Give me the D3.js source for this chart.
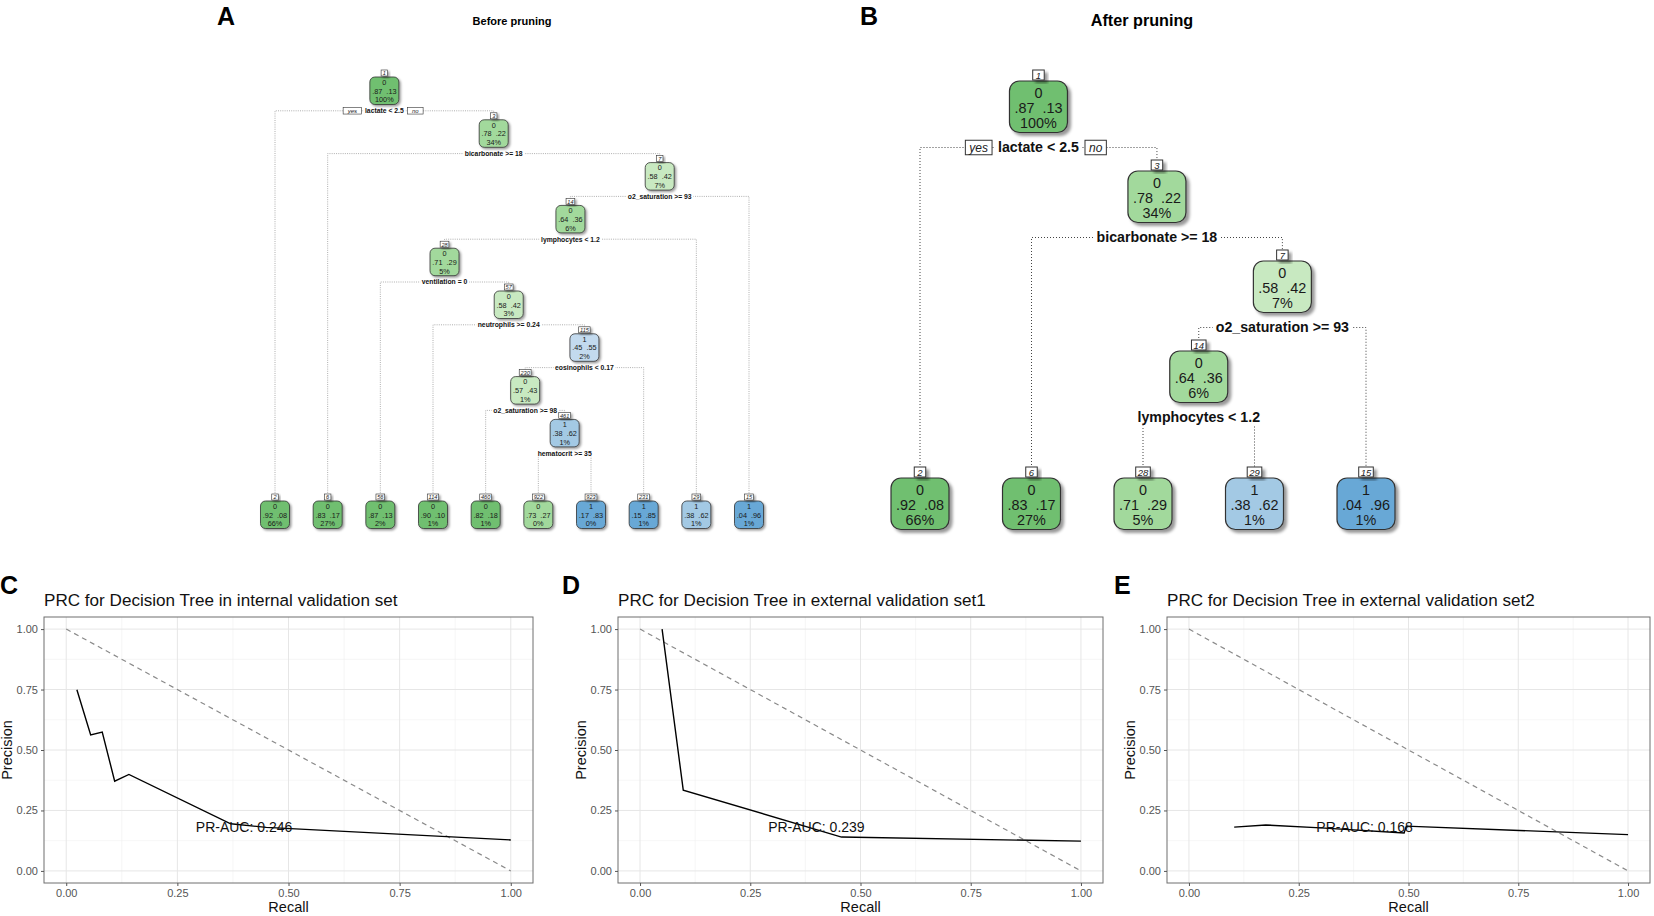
<!DOCTYPE html>
<html>
<head>
<meta charset="utf-8">
<script src="https://cdn.jsdelivr.net/npm/d3@7"></script>
<style>
body{margin:0;background:#fff;}
svg{font-family:"Liberation Sans",Arial,Helvetica,sans-serif;}
</style>
</head>
<body>
<div id="canvas"></div>
<script>
// tree rows: [node id, fitted class, p(0), p(1), share of obs, split rule]
var treeBefore = [
  [1,0,.87,.13,'100%','lactate < 2.5'],
  [2,0,.92,.08,'66%',''],
  [3,0,.78,.22,'34%','bicarbonate >= 18'],
  [6,0,.83,.17,'27%',''],
  [7,0,.58,.42,'7%','o2_saturation >= 93'],
  [14,0,.64,.36,'6%','lymphocytes < 1.2'],
  [15,1,.04,.96,'1%',''],
  [28,0,.71,.29,'5%','ventilation = 0'],
  [29,1,.38,.62,'1%',''],
  [56,0,.87,.13,'2%',''],
  [57,0,.58,.42,'3%','neutrophils >= 0.24'],
  [114,0,.90,.10,'1%',''],
  [115,1,.45,.55,'2%','eosinophils < 0.17'],
  [230,0,.57,.43,'1%','o2_saturation >= 98'],
  [231,1,.15,.85,'1%',''],
  [460,0,.82,.18,'1%',''],
  [461,1,.38,.62,'1%','hematocrit >= 35'],
  [922,0,.73,.27,'0%',''],
  [923,1,.17,.83,'0%','']
];
var treeAfter = [
  [1,0,.87,.13,'100%','lactate < 2.5'],
  [2,0,.92,.08,'66%',''],
  [3,0,.78,.22,'34%','bicarbonate >= 18'],
  [6,0,.83,.17,'27%',''],
  [7,0,.58,.42,'7%','o2_saturation >= 93'],
  [14,0,.64,.36,'6%','lymphocytes < 1.2'],
  [15,1,.04,.96,'1%',''],
  [28,0,.71,.29,'5%',''],
  [29,1,.38,.62,'1%','']
];

// precision-recall curves
var recallC = [0.024,0.055,0.081,0.109,0.141,0.37,0.45,1.00];
var precisionC = [0.749,0.562,0.574,0.371,0.399,0.195,0.18,0.128];
var recallD = [0.05,0.098,0.457,1.00];
var precisionD = [1.00,0.334,0.14,0.123];
var recallE = [0.103,0.175,0.30,0.49,0.495,1.00];
var precisionE = [0.181,0.19,0.178,0.157,0.185,0.15];
var aucLabels = ['PR-AUC: 0.246','PR-AUC: 0.239','PR-AUC: 0.168'];
var prcTitles = ['PRC for Decision Tree in internal validation set',
                 'PRC for Decision Tree in external validation set1',
                 'PRC for Decision Tree in external validation set2'];
var axisTicks = [0,0.25,0.5,0.75,1];

var W = 1654, H = 916;
var svg = d3.select('#canvas').append('svg').attr('width',W).attr('height',H);

var defs = svg.append('defs');
[['shB',3,1.6],['shA',1.6,0.8]].forEach(function(s){
  defs.append('filter').attr('id',s[0])
    .attr('x','-30%').attr('y','-30%').attr('width','170%').attr('height','170%')
    .append('feDropShadow').attr('dx',s[1]).attr('dy',s[1]).attr('stdDeviation',s[2])
    .attr('flood-color','#000').attr('flood-opacity',0.4);
});

var greenFill = d3.scaleThreshold().domain([0.6,0.8]).range(['#c8e9c1','#a2d99c','#6fbf70']);
var blueFill = d3.scaleThreshold().domain([0.6,0.8]).range(['#c3daee','#a3c9e4','#68a8d6']);
var fmt = function(p){ return d3.format('.2f')(p).replace(/^0/,''); };

function drawTree(rows, o){
  var root = d3.stratify()
    .id(function(d){ return d[0]; })
    .parentId(function(d){ return d[0] === 1 ? null : Math.floor(d[0]/2); })(rows);
  root.sort(function(a,b){ return a.data[0] - b.data[0]; });

  // leaves evenly spaced, each split sits over the middle of its two children
  var leaves = root.leaves();
  var xs = d3.scaleLinear().domain([0, leaves.length-1]).range(o.leafRange);
  leaves.forEach(function(l,i){ l.x = xs(i); });
  root.eachAfter(function(n){ if(n.children) n.x = d3.mean(n.children, function(c){ return c.x; }); });
  var ys = d3.scaleLinear().domain([0,1]).range([o.top, o.top + o.step]);
  root.each(function(n){ n.y = n.children ? ys(n.depth) : o.leafTop; });

  var g = svg.append('g');
  var links = g.append('g'), labels = g.append('g'), nodes = g.append('g');

  root.each(function(n){
    if(!n.children) return;
    var yS = n.y + o.h + o.splitGap;
    var L = n.children[0], R = n.children[1];
    links.append('path')
      .attr('d','M'+L.x+','+(L.y - o.numH)+'V'+yS+'H'+R.x+'V'+(R.y - o.numH))
      .attr('fill','none').attr('stroke',o.lineColor)
      .attr('stroke-width',o.lineW).attr('stroke-dasharray',o.dash);

    var lg = labels.append('g');
    var bg = lg.append('rect').attr('fill','#fff');
    var t = lg.append('text').attr('x',n.x).attr('y',yS).attr('dy','0.35em')
      .attr('text-anchor','middle').attr('font-size',o.splitFont).attr('font-weight','bold')
      .attr('fill','#111').text(n.data[5]);
    var b = t.node().getBBox();
    bg.attr('x',b.x - o.pad).attr('y',b.y).attr('width',b.width + 2*o.pad).attr('height',b.height);

    if(n.depth === 0){
      ['yes','no'].forEach(function(tag, i){
        var tg = lg.append('g');
        var tb = tg.append('rect').attr('fill','#fff').attr('stroke','#333').attr('stroke-width',o.tagStroke);
        var tt = tg.append('text').attr('y',yS).attr('dy','0.35em').attr('text-anchor','middle')
          .attr('font-size',o.tagFont).attr('font-style','italic').attr('fill','#222').text(tag);
        var w = tt.node().getComputedTextLength() + 2*o.tagPad;
        var x0 = i === 0 ? b.x - o.tagGap - w : b.x + b.width + o.tagGap;
        tt.attr('x', x0 + w/2);
        tb.attr('x',x0).attr('y',yS - o.tagH/2).attr('width',w).attr('height',o.tagH);
      });
    }
  });

  root.each(function(n){
    var d = n.data;
    var fill = d[1] === 0 ? greenFill(d[2]) : blueFill(d[3]);
    var ng = nodes.append('g');
    ng.append('rect')
      .attr('x',n.x - o.w/2).attr('y',n.y).attr('width',o.w).attr('height',o.h).attr('rx',o.rx)
      .attr('fill',fill).attr('stroke','#333').attr('stroke-width',o.boxStroke)
      .attr('filter','url(#'+o.shadow+')');
    [String(d[1]), fmt(d[2]) + '  ' + fmt(d[3]), d[4]].forEach(function(s,i){
      ng.append('text').attr('x',n.x).attr('y',n.y + o.line0 + i*o.lineGap).attr('dy','0.35em')
        .attr('text-anchor','middle').attr('font-size',o.font).attr('fill','#1a1a1a')
        .style('white-space','pre').text(s);
    });
    // node number tag
    var nb = ng.append('rect').attr('fill','#fff').attr('stroke','#333').attr('stroke-width',o.tagStroke)
      .attr('filter','url(#'+o.shadow+')');
    var nt = ng.append('text').attr('x',n.x).attr('y',n.y - o.numH/2 - 0.5).attr('dy','0.35em')
      .attr('text-anchor','middle').attr('font-size',o.numFont).attr('font-style','italic')
      .attr('fill','#222').text(d[0]);
    var nw = Math.max(o.numMinW, nt.node().getComputedTextLength() + o.numPad);
    nb.attr('x',n.x - nw/2).attr('y',n.y - o.numH - 1).attr('width',nw).attr('height',o.numH);
  });
}

// panel A: before pruning
drawTree(treeBefore, {
  leafRange:[275,749], top:77, step:42.8, leafTop:501,
  w:29, h:27.5, rx:5, boxStroke:0.8, font:7.3, line0:5.3, lineGap:8.8,
  splitGap:6.3, splitFont:6.8, pad:1.5,
  numH:6, numFont:5.6, numMinW:6.5, numPad:2.5,
  tagFont:6, tagH:6.5, tagPad:4.5, tagGap:3.5, tagStroke:0.6,
  lineColor:'#9a9a9a', lineW:0.8, dash:'1,1.2', shadow:'shA'
});

// panel B: after pruning
drawTree(treeAfter, {
  leafRange:[920,1366], top:81, step:90, leafTop:478,
  w:58, h:51.5, rx:10, boxStroke:1.2, font:14.4, line0:11.5, lineGap:15.2,
  splitGap:15, splitFont:14.2, pad:3,
  numH:10, numFont:9.5, numMinW:11.5, numPad:4,
  tagFont:12, tagH:14.5, tagPad:4, tagGap:6, tagStroke:1,
  lineColor:'#444', lineW:1, dash:'1,2', shadow:'shB'
});

// panel headings
var heads = [
  {t:'A', x:217, y:25, size:25},
  {t:'B', x:860, y:25, size:25},
  {t:'C', x:0, y:594, size:25},
  {t:'D', x:562, y:594, size:25},
  {t:'E', x:1114, y:594, size:25}
];
svg.selectAll('text.head').data(heads).enter().append('text').attr('class','head')
  .attr('x',function(d){ return d.x; }).attr('y',function(d){ return d.y; })
  .attr('font-size',function(d){ return d.size; }).attr('font-weight','bold')
  .text(function(d){ return d.t; });
svg.append('text').attr('x',512).attr('y',25).attr('text-anchor','middle')
  .attr('font-size',11).attr('font-weight','bold').text('Before pruning');
svg.append('text').attr('x',1142).attr('y',26).attr('text-anchor','middle')
  .attr('font-size',16.2).attr('font-weight','bold').text('After pruning');

// precision-recall panels
function drawPRC(recall, precision, i, left, right){
  var top = 617, bottom = 883;
  var x = d3.scaleLinear().domain([-0.05,1.05]).range([left,right]);
  var y = d3.scaleLinear().domain([-0.05,1.05]).range([bottom,top]);
  var g = svg.append('g');

  var minor = [0.125,0.375,0.625,0.875];
  g.selectAll('line.vmin').data(minor).enter().append('line')
    .attr('x1',x).attr('x2',x).attr('y1',top).attr('y2',bottom)
    .attr('stroke','#f0f0f0').attr('stroke-width',0.6);
  g.selectAll('line.hmin').data(minor).enter().append('line')
    .attr('y1',y).attr('y2',y).attr('x1',left).attr('x2',right)
    .attr('stroke','#f0f0f0').attr('stroke-width',0.6);
  g.selectAll('line.vmaj').data(axisTicks).enter().append('line')
    .attr('x1',x).attr('x2',x).attr('y1',top).attr('y2',bottom)
    .attr('stroke','#e6e6e6').attr('stroke-width',1);
  g.selectAll('line.hmaj').data(axisTicks).enter().append('line')
    .attr('y1',y).attr('y2',y).attr('x1',left).attr('x2',right)
    .attr('stroke','#e6e6e6').attr('stroke-width',1);

  var line = d3.line().x(function(d){ return x(d[0]); }).y(function(d){ return y(d[1]); });
  g.append('path').datum([[0,1],[1,0]]).attr('d',line)
    .attr('fill','none').attr('stroke','#8a8a8a').attr('stroke-width',1.2).attr('stroke-dasharray','5,4');
  g.append('path').datum(d3.zip(recall, precision)).attr('d',line)
    .attr('fill','none').attr('stroke','#000').attr('stroke-width',1.4);
  g.append('text').attr('x',x(0.4)).attr('y',y(0.18)).attr('dy','0.35em').attr('text-anchor','middle')
    .attr('font-size',14).attr('fill','#111').text(aucLabels[i]);

  g.append('rect').attr('x',left).attr('y',top).attr('width',right-left).attr('height',bottom-top)
    .attr('fill','none').attr('stroke','#6e6e6e').attr('stroke-width',1);

  var ax = g.append('g').attr('transform','translate(0,'+bottom+')')
    .call(d3.axisBottom(x).tickValues(axisTicks).tickFormat(d3.format('.2f')).tickSize(3).tickPadding(3));
  var ay = g.append('g').attr('transform','translate('+left+',0)')
    .call(d3.axisLeft(y).tickValues(axisTicks).tickFormat(d3.format('.2f')).tickSize(3).tickPadding(3));
  [ax, ay].forEach(function(a){
    a.select('.domain').remove();
    a.selectAll('line').attr('stroke','#555');
    a.selectAll('text').attr('fill','#555').attr('font-size',11)
      .attr('font-family','"Liberation Sans",Arial,sans-serif');
  });

  g.append('text').attr('x',left).attr('y',606).attr('font-size',17.1).attr('fill','#111').text(prcTitles[i]);
  g.append('text').attr('x',(left+right)/2).attr('y',912).attr('text-anchor','middle')
    .attr('font-size',14.5).attr('fill','#111').text('Recall');
  g.append('text').attr('transform','translate('+(left-32)+','+((top+bottom)/2)+') rotate(-90)')
    .attr('text-anchor','middle').attr('font-size',14.5).attr('fill','#111').text('Precision');
}

drawPRC(recallC, precisionC, 0, 44, 533);
drawPRC(recallD, precisionD, 1, 618, 1103);
drawPRC(recallE, precisionE, 2, 1167, 1650);
</script>
</body>
</html>
